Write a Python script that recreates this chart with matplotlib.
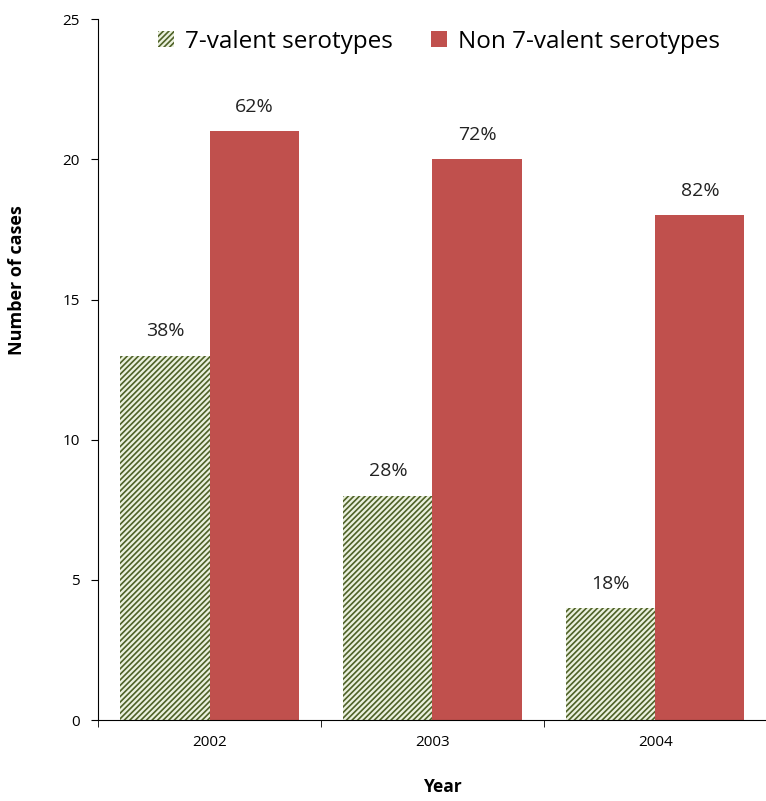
import matplotlib
matplotlib.use('Agg')
import matplotlib.pyplot as plt
import numpy as np

years = ['2002', '2003', '2004']
seven_valent = [13, 8, 4]
non_seven_valent = [21, 20, 18]
pct_seven = ['38%', '28%', '18%']
pct_non = ['62%', '72%', '82%']

plt.rcParams['font.family'] = ['Open Sans', 'DejaVu Sans']
plt.rcParams['hatch.linewidth'] = 1.2
plt.rcParams['hatch.color'] = '#4F6228'

fig = plt.figure(figsize=(7.66, 8.01), dpi=100)
ax = fig.add_axes([0.128, 0.101, 0.873, 0.875])

x = np.arange(len(years))
w = 0.40
b1 = ax.bar(x - w / 2, seven_valent, w, color='#EBF1DE', hatch='//////',
            edgecolor='#4F6228', linewidth=0, label='7-valent serotypes')
b2 = ax.bar(x + w / 2, non_seven_valent, w, color='#C0504D',
            linewidth=0, label='Non 7-valent serotypes')

for rect, t in zip(b1, pct_seven):
    ax.text(rect.get_x() + rect.get_width() / 2, rect.get_height() + 0.55, t,
            ha='center', va='bottom', fontsize=14, color='#222222')
for rect, t in zip(b2, pct_non):
    ax.text(rect.get_x() + rect.get_width() / 2, rect.get_height() + 0.55, t,
            ha='center', va='bottom', fontsize=14, color='#222222')

ax.set_xlim(-0.5, 2.5)
ax.set_ylim(0, 25)
ax.set_yticks([0, 5, 10, 15, 20, 25])
ax.set_xticks(x)
ax.set_xticklabels(years, fontsize=11)
ax.tick_params(axis='x', length=0, pad=11)
ax.set_xticks([-0.5, 0.5, 1.5, 2.5], minor=True)
ax.tick_params(axis='x', which='minor', length=5, direction='out')
ax.tick_params(axis='y', labelsize=11, length=5, direction='out', pad=8)

for s in ['top', 'right']:
    ax.spines[s].set_visible(False)

ax.set_xlabel('Year', fontsize=12.5, fontweight='bold')
ax.set_ylabel('Number of cases', fontsize=13, fontweight='bold')
ax.xaxis.set_label_coords(0.517, -0.083)
ax.yaxis.set_label_coords(-0.108, 0.628)

ax.legend(loc='center', bbox_to_anchor=(0.51, 0.968), ncol=2,
          frameon=False, fontsize=17.5, handlelength=0.65, handleheight=0.65,
          columnspacing=1.6, handletextpad=0.45)

fig.savefig('out.png', dpi=100)
